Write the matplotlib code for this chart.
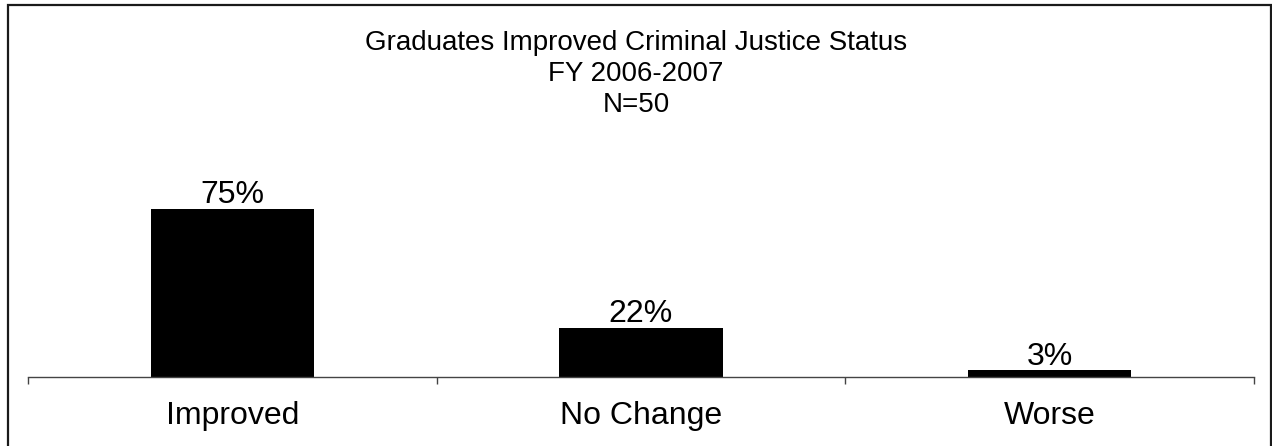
import matplotlib
matplotlib.use("Agg")
import matplotlib.pyplot as plt
from matplotlib.patches import Rectangle

plt.rcParams["font.family"] = ["Liberation Sans", "DejaVu Sans"]

categories = ["Improved", "No Change", "Worse"]
percents = [75, 22, 3]
title_lines = ["Graduates Improved Criminal Justice Status", "FY 2006-2007", "N=50"]

W, H = 1272, 446
fig = plt.figure(figsize=(W / 100, H / 100), dpi=100)

# outer border (open at the bottom edge)
fig.patches.append(Rectangle((8 / W, -0.05), 1263 / W, (H - 5) / H + 0.05,
                             transform=fig.transFigure, fill=False,
                             edgecolor="#1a1a1a", linewidth=1.6))

ax = fig.add_axes([28 / W, (H - 377) / H, 1226 / W, 224 / H])
x = list(range(len(categories)))
bars = ax.bar(x, percents, width=0.40, color="black")
ax.set_xlim(-0.5, len(categories) - 0.5)
ax.set_ylim(0, 100)

for b, p in zip(bars, percents):
    ax.annotate(f"{p}%", (b.get_x() + b.get_width() / 2, b.get_height()),
                xytext=(0, 4), textcoords="offset points",
                ha="center", va="baseline", fontsize=23)

for s in ["top", "right", "left"]:
    ax.spines[s].set_visible(False)
ax.spines["bottom"].set_color("#444444")
ax.spines["bottom"].set_linewidth(1.0)
ax.set_yticks([])

ax.set_xticks(x)
ax.set_xticklabels(categories, fontsize=23)
ax.tick_params(axis="x", which="major", length=0, pad=17)
ax.set_xticks([i - 0.5 for i in range(len(categories) + 1)], minor=True)
ax.tick_params(axis="x", which="minor", length=5, color="#444444", width=1.0)

fig.text(0.5, 1 - 74 / H, "\n".join(title_lines), ha="center", va="center",
         fontsize=20, linespacing=1.25)

fig.savefig("out.png", dpi=100)
